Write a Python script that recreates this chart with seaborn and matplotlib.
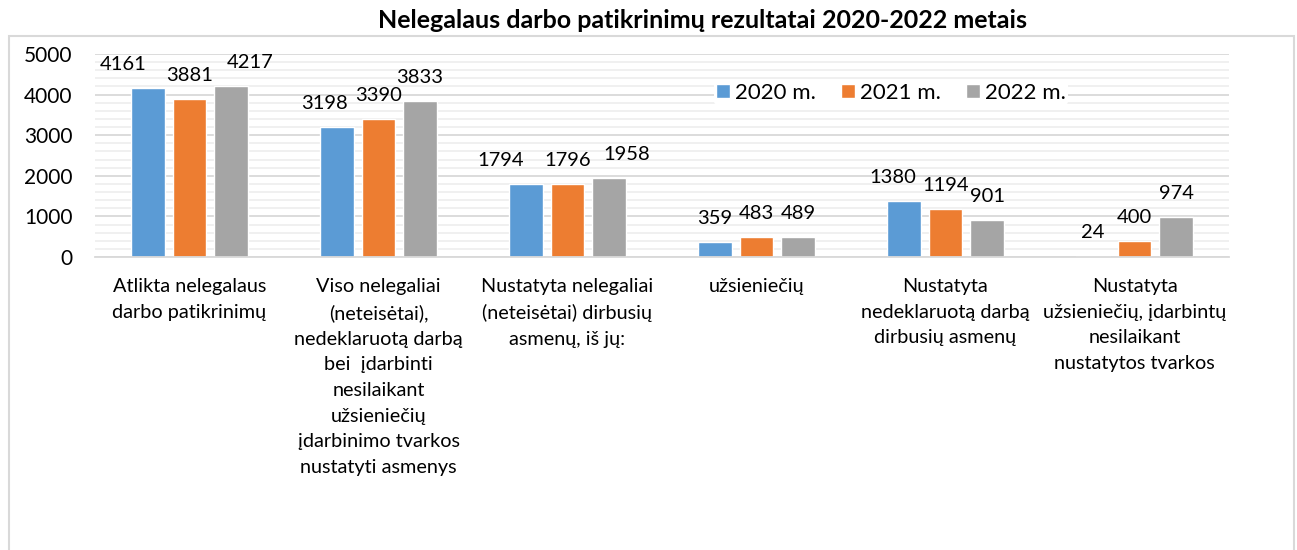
import matplotlib
matplotlib.use("Agg")
import matplotlib.pyplot as plt
from matplotlib.patches import Rectangle
from matplotlib.ticker import MultipleLocator
import pandas as pd
import seaborn as sns

# --- data -------------------------------------------------------------------
categories = [
    "Atlikta nelegalaus\ndarbo patikrinimų",
    "Viso nelegaliai\n(neteisėtai),\nnedeklaruotą darbą\nbei  įdarbinti\nnesilaikant\nužsieniečių\nįdarbinimo tvarkos\nnustatyti asmenys",
    "Nustatyta nelegaliai\n(neteisėtai) dirbusių\nasmenų, iš jų:",
    "užsieniečių",
    "Nustatyta\nnedeklaruotą darbą\ndirbusių asmenų",
    "Nustatyta\nužsieniečių, įdarbintų\nnesilaikant\nnustatytos tvarkos",
]
years = ["2020 m.", "2021 m.", "2022 m."]
values_2020 = [4161, 3198, 1794, 359, 1380, 24]
values_2021 = [3881, 3390, 1796, 483, 1194, 400]
values_2022 = [4217, 3833, 1958, 489, 901, 974]
title = "Nelegalaus darbo patikrinimų rezultatai 2020-2022 metais"

colors = ["#5B9BD5", "#ED7D31", "#A5A5A5"]

# hand-placed label nudges (pixels) for crowded groups: (category, year) -> dx
label_nudge = {(0, 0): -25, (0, 2): 19, (1, 0): -12,
               (2, 0): -25, (2, 2): 18, (4, 0): -11}

df = pd.DataFrame({
    "category": categories * 3,
    "year": [y for y in years for _ in categories],
    "value": values_2020 + values_2021 + values_2022,
})

# --- style ------------------------------------------------------------------
sns.set_theme(style="white")
plt.rcParams["font.family"] = ["Lato", "DejaVu Sans"]
text_color = "#000000"

W, H, DPI = 1297, 550, 100
fig = plt.figure(figsize=(W / DPI, H / DPI), dpi=DPI)
ax = fig.add_axes([95 / W, 1 - 257 / H, (1229 - 95) / W, (257 - 54) / H])

sns.barplot(
    data=df, x="category", y="value", hue="year",
    order=categories, hue_order=years, palette=colors,
    width=0.66, gap=0.2, ax=ax, saturation=1, errorbar=None,
)

ax.set_ylim(0, 5000)
ax.set_xlim(-0.5, len(categories) - 0.5)
ax.yaxis.set_major_locator(MultipleLocator(1000))
ax.yaxis.set_minor_locator(MultipleLocator(200))
ax.grid(axis="y", which="major", color="#d9d9d9", lw=1.3)
ax.grid(axis="y", which="minor", color="#efefef", lw=1.3)
ax.set_axisbelow(True)
for side in ("top", "right", "left"):
    ax.spines[side].set_visible(False)
ax.spines["bottom"].set_color("#d9d9d9")
ax.spines["bottom"].set_linewidth(1.3)
ax.tick_params(axis="both", which="both", length=0)
ax.tick_params(axis="y", pad=16, labelsize=15, labelcolor=text_color)
ax.tick_params(axis="x", pad=15, labelsize=14.3, labelcolor=text_color)
for lbl in ax.get_xticklabels():
    lbl.set_linespacing(1.62)
    lbl.set_verticalalignment("top")
ax.set_xlabel("")
ax.set_ylabel("")

# value labels above each bar
for hi, container in enumerate(ax.containers):
    for ci, bar in enumerate(container):
        val = int(round(bar.get_height()))
        dx = label_nudge.get((ci, hi), 0)
        ax.annotate(
            f"{val}",
            (bar.get_x() + bar.get_width() / 2, bar.get_height()),
            xytext=(dx * 0.72, 18 * 0.72), textcoords="offset points",
            ha="center", va="baseline", fontsize=14.5, color=text_color,
        )

# legend
handles, labels = ax.get_legend_handles_labels()
ax.legend(
    handles, labels, loc="center", ncol=3,
    bbox_to_anchor=(891 / W, 1 - 93 / H), bbox_transform=fig.transFigure,
    frameon=True, facecolor="white", edgecolor="none", framealpha=1,
    fontsize=16, handlelength=0.63, handleheight=0.63,
    handletextpad=0.25, columnspacing=1.1, borderpad=0.1,
    labelcolor=text_color,
)

# title and chart frame
fig.text(703 / W, 1 - 20 / H, title, ha="center", va="center",
         fontsize=18, fontweight="bold", color=text_color)
fig.patches.append(Rectangle(
    (9 / W, -0.05), (1294 - 9) / W, 1 - 36 / H + 0.05,
    transform=fig.transFigure, fill=False, edgecolor="#d9d9d9", lw=1.5,
))

fig.savefig("out.png", dpi=DPI)
